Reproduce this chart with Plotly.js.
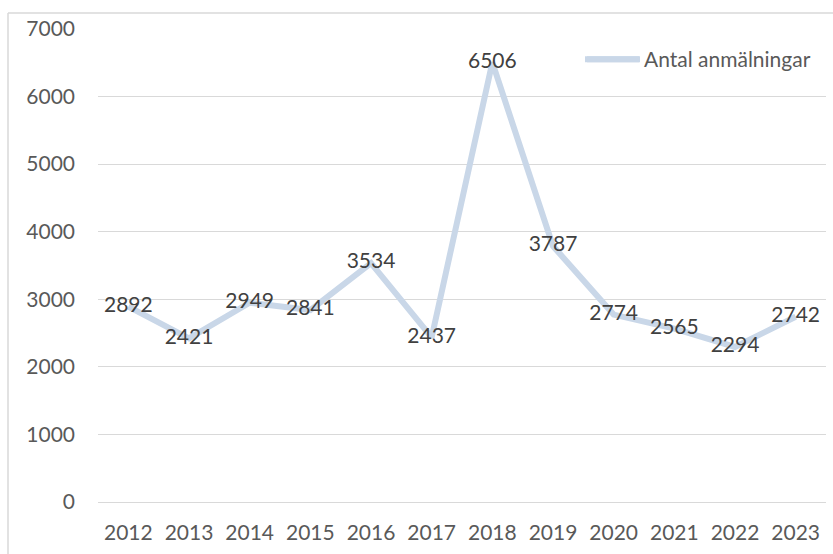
<!DOCTYPE html>
<html><head><meta charset="utf-8">
<script src="https://cdn.plot.ly/plotly-3.0.1.min.js"></script>
<style>html,body{margin:0;padding:0;background:#fff}#c{width:833px;height:554px}</style>
</head><body><div id="c"></div>
<script>
const years = ['2012','2013','2014','2015','2016','2017','2018','2019','2020','2021','2022','2023'];
const anmalningar = [2892,2421,2949,2841,3534,2437,6506,3787,2774,2565,2294,2742];
const seriesName = 'Antal anmälningar';
const yTicks = [0,1000,2000,3000,4000,5000,6000,7000];

const font = 'Lato, Calibri, "Liberation Sans", sans-serif';
const lineColor = '#C9D7E8';
const trace = {
  x: years, y: anmalningar, type: 'scatter', mode: 'lines+text',
  name: seriesName,
  line: {color: lineColor, width: 6},
  text: anmalningar.map(String), textposition: 'middle center',
  textfont: {family: font, size: 21, color: '#404040'},
  cliponaxis: false
};
const W = 728, H = 473;
const px = v => (v - 98) / W;
const py = v => 1 - (v - 29) / H;
const layout = {
  width: 833, height: 554,
  margin: {l: 98, r: 7, t: 29, b: 52, pad: 0},
  paper_bgcolor: '#fff', plot_bgcolor: '#fff',
  showlegend: true,
  legend: {x: px(580), y: py(39), xanchor: 'left', yanchor: 'top', itemwidth: 54,
    bgcolor: 'rgba(0,0,0,0)', font: {family: font, size: 21, color: '#595959'}},
  xaxis: {type: 'category', range: [-0.5, 11.5], showgrid: false, showline: true,
    linecolor: '#D9D9D9', linewidth: 1, ticks: '', zeroline: false,
    tickfont: {family: font, size: 21, color: '#595959'}, ticklabelstandoff: 12, fixedrange: true},
  yaxis: {range: [0, 7000], tickvals: yTicks, ticktext: yTicks.map(String), showgrid: true,
    gridcolor: '#D9D9D9', gridwidth: 1, zeroline: false, showline: false, ticks: '',
    tickfont: {family: font, size: 21, color: '#595959'}, ticklabelstandoff: 22, fixedrange: true},
  shapes: [
    {type: 'line', xref: 'paper', yref: 'paper', x0: px(8), x1: px(8),
      y0: py(13), y1: py(560), line: {color: '#D9D9D9', width: 1.5}},
    {type: 'line', xref: 'paper', yref: 'paper', x0: px(8), x1: px(840),
      y0: py(13), y1: py(13), line: {color: '#D9D9D9', width: 1.5}}
  ]
};
Plotly.newPlot('c', [trace], layout, {displayModeBar: false, staticPlot: true}).then(gd => {
  // extend the legend line sample to match the longer swatch of the reference
  const item = gd.querySelector('.legend .traces');
  const path = item && item.querySelector('.legendlines path');
  if (path) {
    const r = path.getBoundingClientRect();
    const cy = r.top + r.height / 2;
    Plotly.relayout(gd, {shapes: layout.shapes.concat([{type: 'line', xref: 'paper', yref: 'paper',
      x0: px(r.left + 2), x1: px(640), y0: py(cy), y1: py(cy),
      line: {color: lineColor, width: 6}}])});
  }
});
</script></body></html>
